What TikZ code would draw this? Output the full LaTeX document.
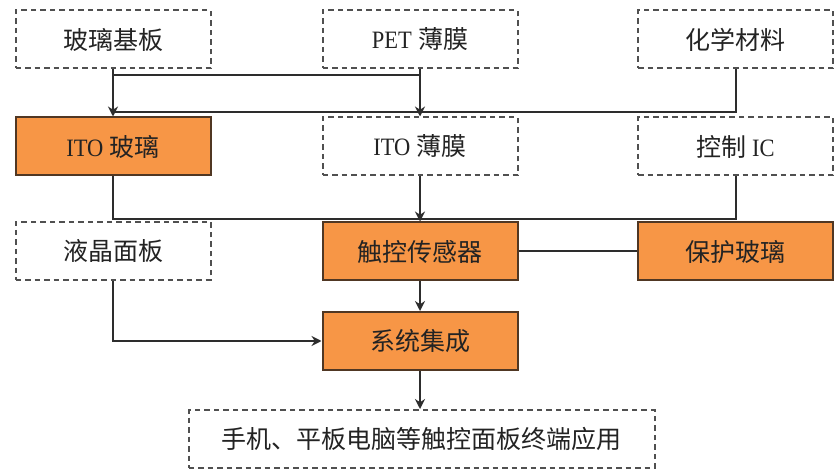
\documentclass[tikz,border=0pt]{standalone}
\usepackage{fontspec}
\setmainfont{Liberation Serif}
\newfontfamily\cjk{Noto Sans CJK SC}
\usetikzlibrary{arrows.meta,calc}
\definecolor{boxorange}{RGB}{247,150,70}
\definecolor{boxedge}{RGB}{80,55,35}
\definecolor{dashedge}{RGB}{80,80,80}
\definecolor{linegray}{RGB}{45,45,45}
\definecolor{txtgray}{RGB}{35,35,35}
\newcommand{\latw}[1]{\scalebox{0.9}[1]{#1}}
\begin{document}
\begin{tikzpicture}[x=1pt,y=-1pt,
  basebox/.style={minimum width=195pt,minimum height=58pt,inner sep=0pt,
    text=txtgray,font=\fontsize{25}{28}\selectfont},
  dbox/.style={basebox,draw=dashedge,line width=2pt,dash pattern=on 5.5pt off 4pt,fill=white},
  obox/.style={basebox,draw=boxedge,line width=2pt,fill=boxorange},
  conn/.style={draw=linegray,line width=2pt},
  arr/.style={conn,-{Stealth[length=10pt,width=10pt]}}]
\useasboundingbox (0,0) rectangle (835,470);
\fill[white] (0,0) rectangle (835,470);
% row 1
\node[dbox] (a) at (113,39.5) {\cjk 玻璃基板};
\node[dbox] (b) at (420,39.5) {\latw{PET} \cjk 薄膜};
\node[dbox] (c) at (735.5,39.5) {\cjk 化学材料};
% row 2
\node[obox] (d) at (113,146.5) {\latw{ITO} \cjk 玻璃};
\node[dbox] (e) at (420,146.5) {\latw{ITO} \cjk 薄膜};
\node[dbox] (f) at (735.5,146.5) {\cjk 控制 \latw{\rmfamily IC}};
% row 3
\node[dbox] (h) at (113,251) {\cjk 液晶面板};
\node[obox] (g) at (420,251.5) {\cjk 触控传感器};
\node[obox] (i) at (735.5,251.5) {\cjk 保护玻璃};
% row 4
\node[obox] (j) at (420,341) {\cjk 系统集成};
% row 5
\node[dbox,minimum width=466pt] (k) at (421.5,439) {\cjk 手机、平板电脑等触控面板终端应用};
% connectors row1 -> row2
\coordinate (h1) at ($(a.south)+(0,6)$);
\coordinate (h2) at ($(b.south)+(0,6)$);
\coordinate (h3) at ($(d.north)+(0,-4)$);
\draw[conn] (h1) -- (h2);
\draw[conn] (c.south) |- (h3);
\draw[arr] (a.south) -- (d.north);
\draw[arr] (b.south) -- (e.north);
% row2 -> row3
\coordinate (h4) at ($(f.south)+(0,43)$);
\draw[conn] (d.south) |- (h4) -- (f.south);
\draw[arr] (e.south) -- (g.north);
\draw[conn] (g.east) -- (i.west);
% row3 -> row4 -> row5
\draw[arr] (g.south) -- (j.north);
\draw[arr] (h.south) |- (j.west);
\draw[arr] (j.south) -- (j.south |- k.north);
\end{tikzpicture}
\end{document}
